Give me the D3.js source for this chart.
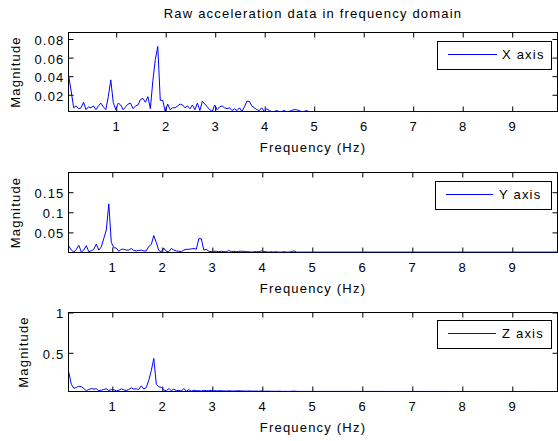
<!DOCTYPE html>
<html><head><meta charset="utf-8">
<script src="https://cdn.jsdelivr.net/npm/d3@7"></script>
<style>
html,body{margin:0;padding:0;background:#fff;}
svg{display:block;}
text{font-family:"Liberation Sans",Arial,Helvetica,sans-serif;font-size:13px;letter-spacing:1.2px;fill:#000;}
</style></head><body>
<svg id="chart" width="558" height="441"></svg>
<script>
const titleText = "Raw acceleration data in frequency domain";
const xLabel = "Frequency (Hz)";
const yLabel = "Magnitude";
const legendLabels = ["X axis", "Y axis", "Z axis"];
const xTicks = [1,2,3,4,5,6,7,8,9];
const yTicksX = [0.02,0.04,0.06,0.08];
const yTicksY = [0.05,0.1,0.15];
const yTicksZ = [0.5,1];

const freqX = [0.04,0.09,0.14,0.19,0.24,0.29,0.34,0.39,0.44,0.49,
0.54,0.59,0.64,0.69,0.74,0.79,0.84,0.89,0.94,0.99,
1.04,1.09,1.14,1.19,1.24,1.29,1.34,1.39,1.44,1.49,
1.54,1.59,1.64,1.69,1.74,1.79,1.84,1.89,1.94,1.99,
2.04,2.09,2.14,2.19,2.24,2.29,2.34,2.39,2.44,2.49,
2.54,2.59,2.64,2.69,2.74,2.79,2.84,2.89,2.94,2.99,
3.04,3.09,3.14,3.19,3.24,3.29,3.34,3.39,3.44,3.49,
3.54,3.59,3.64,3.69,3.74,3.79,3.84,3.89,3.94,3.99,
4.04,4.09,4.14,4.19,4.24,4.29,4.34,4.39,4.44,4.49,
4.54,4.59,4.64,4.69,4.74,4.79,4.84,4.89,9.915];
const magX = [0.040,0.024,0.006,0.008,0.005,0.006,0.012,0.004,0.007,0.006,
0.008,0.004,0.008,0.011,0.007,0.004,0.018,0.036,0.012,0.004,
0.011,0.009,0.004,0.007,0.010,0.011,0.005,0.008,0.009,0.015,
0.016,0.012,0.018,0.005,0.035,0.058,0.072,0.014,0.014,0.002,
0.010,0.004,0.006,0.006,0.008,0.010,0.009,0.006,0.008,0.005,
0.009,0.004,0.011,0.003,0.013,0.010,0.007,0.004,0.002,0.009,
0.004,0.007,0.008,0.006,0.005,0.006,0.003,0.005,0.003,0.006,
0.002,0.007,0.013,0.013,0.008,0.006,0.004,0.003,0.006,0.002,
0.005,0.003,0.002,0.002,0.003,0.002,0.002,0.003,0.002,0.002,
0.003,0.004,0.004,0.003,0.002,0.002,0.003,0.002,0.002];

const freqYZ = [0.13,0.18,0.23,0.28,0.33,0.38,0.43,0.48,0.53,0.58,
0.63,0.68,0.73,0.78,0.83,0.88,0.93,0.98,1.03,1.08,
1.13,1.18,1.23,1.28,1.33,1.38,1.43,1.48,1.53,1.58,
1.63,1.68,1.73,1.78,1.83,1.88,1.93,1.98,2.03,2.08,
2.13,2.18,2.23,2.28,2.33,2.38,2.43,2.48,2.53,2.58,
2.63,2.68,2.73,2.78,2.83,2.88,2.93,2.98,3.03,3.08,
3.13,3.18,3.23,3.28,3.33,3.38,3.43,3.48,3.53,3.58,
3.63,3.68,3.73,3.78,3.83,3.88,3.93,3.98,4.03,4.08,
4.13,4.18,4.23,4.28,4.33,4.38,4.43,4.48,4.53,4.58,
4.63,4.68,4.73,4.78,4.83,4.88,9.904];
const magY = [0.016,0.006,0.001,0.008,0.018,0.001,0.006,0.017,0.002,0.004,
0.008,0.021,0.006,0.014,0.035,0.056,0.121,0.025,0.012,0.011,
0.003,0.008,0.008,0.006,0.006,0.010,0.005,0.004,0.005,0.006,
0.004,0.004,0.015,0.020,0.042,0.025,0.005,0.002,0.011,0.003,
0.002,0.010,0.006,0.004,0.003,0.002,0.006,0.008,0.008,0.009,
0.010,0.008,0.034,0.034,0.006,0.008,0.003,0.002,0.003,0.003,
0.002,0.003,0.002,0.002,0.005,0.002,0.003,0.002,0.003,0.003,
0.003,0.002,0.002,0.001,0.002,0.002,0.002,0.004,0.002,0.002,
0.001,0.002,0.001,0.002,0.001,0.001,0.002,0.001,0.001,0.002,
0.004,0.001,0.001,0.001,0.001,0.001,0.001];
const magZ = [0.26,0.11,0.06,0.07,0.085,0.08,0.057,0.03,0.045,0.057,
0.05,0.053,0.03,0.036,0.045,0.053,0.032,0.045,0.041,0.028,
0.035,0.053,0.04,0.032,0.045,0.065,0.05,0.053,0.045,0.09,
0.05,0.07,0.16,0.28,0.43,0.11,0.08,0.07,0.04,0.028,
0.057,0.03,0.049,0.03,0.035,0.025,0.057,0.025,0.041,0.024,
0.036,0.03,0.03,0.025,0.035,0.03,0.03,0.032,0.03,0.028,
0.03,0.029,0.028,0.026,0.03,0.027,0.025,0.028,0.03,0.027,
0.026,0.025,0.027,0.025,0.024,0.026,0.023,0.028,0.024,0.023,
0.025,0.022,0.023,0.022,0.024,0.022,0.021,0.022,0.021,0.023,
0.025,0.022,0.021,0.021,0.021,0.021,0.02];

const panels = [
  {freq:freqX, mag:magX, xDom:[0.036,9.915], yDom:[0.002,0.087], yTicks:yTicksX, top:32.5, bottom:111.5, label:legendLabels[0], ylabX:20,
   leg:{x0:437.5,x1:551.5,y0:41.5,y1:69.5,l0:448,l1:497,ly:54.5,tx:502}},
  {freq:freqYZ, mag:magY, xDom:[0.124,9.904], yDom:[0,0.199], yTicks:yTicksY, top:172.5, bottom:252.5, label:legendLabels[1], ylabX:20,
   leg:{x0:435.5,x1:551.5,y0:181.5,y1:209.5,l0:446,l1:493,ly:194.5,tx:499}},
  {freq:freqYZ, mag:magZ, xDom:[0.124,9.904], yDom:[0.02,1], yTicks:yTicksZ, top:312.5, bottom:391.5, label:legendLabels[2], ylabX:28,
   leg:{x0:437.5,x1:551.5,y0:320.5,y1:348.5,l0:448,l1:496,ly:333.5,tx:502}}
];
const left = 68.5, right = 557.5;
const svg = d3.select("#chart");

svg.append("text").attr("x",(left+right)/2).attr("y",18).attr("text-anchor","middle").text(titleText);

panels.forEach((p,i)=>{
  const x = d3.scaleLinear().domain(p.xDom).range([left,right]);
  const y = d3.scaleLinear().domain(p.yDom).range([p.bottom,p.top]);
  const g = svg.append("g");
  const cid = "clip"+i;
  svg.append("clipPath").attr("id",cid).append("rect")
    .attr("x",left).attr("y",p.top-1).attr("width",right-left).attr("height",p.bottom-p.top+1);

  // frame
  g.append("rect").attr("x",left).attr("y",p.top).attr("width",right-left).attr("height",p.bottom-p.top)
    .attr("fill","none").attr("stroke","#000").attr("stroke-width",1);

  const fmt = d3.format("~g");
  const axB = g.append("g").attr("transform",`translate(0,${p.bottom})`)
    .call(d3.axisBottom(x).tickValues(xTicks).tickSize(-5).tickPadding(10).tickFormat(fmt));
  const axT = g.append("g").attr("transform",`translate(0,${p.top})`)
    .call(d3.axisTop(x).tickValues(xTicks).tickSize(-5).tickFormat(""));
  const axL = g.append("g").attr("transform",`translate(${left},0)`)
    .call(d3.axisLeft(y).tickValues(p.yTicks).tickSize(-5).tickPadding(4).tickFormat(fmt));
  const axR = g.append("g").attr("transform",`translate(${right},0)`)
    .call(d3.axisRight(y).tickValues(p.yTicks).tickSize(-5).tickFormat(""));
  [axB,axT,axL,axR].forEach(a=>{
    a.select(".domain").remove();
    a.selectAll("line").attr("stroke","#000");
    a.selectAll("text").attr("fill","#000").style("font-size","13px")
      .style("font-family",'"Liberation Sans",Arial,Helvetica,sans-serif');
  });
  axL.selectAll("text").attr("dy","0.42em");

  // data line
  const pts = p.freq.map((f,k)=>[f,p.mag[k]]);
  g.append("path").datum(pts).attr("clip-path",`url(#${cid})`)
    .attr("fill","none").attr("stroke","#0000ff").attr("stroke-width",1)
    .attr("d", d3.line().x(d=>x(d[0])).y(d=>y(d[1])));

  // labels
  svg.append("text").attr("x",(left+right)/2).attr("y",p.bottom+40).attr("text-anchor","middle").text(xLabel);
  svg.append("text").attr("transform",`translate(${p.ylabX},${(p.top+p.bottom)/2}) rotate(-90)`)
    .attr("text-anchor","middle").text(yLabel);

  // legend
  const L = p.leg;
  g.append("rect").attr("x",L.x0).attr("y",L.y0).attr("width",L.x1-L.x0).attr("height",L.y1-L.y0)
    .attr("fill","#fff").attr("stroke","#000").attr("stroke-width",1);
  g.append("line").attr("x1",L.l0).attr("x2",L.l1).attr("y1",L.ly).attr("y2",L.ly)
    .attr("stroke","#0000ff").attr("stroke-width",1);
  g.append("text").attr("x",L.tx).attr("y",L.ly).attr("dy","0.36em").text(p.label);
});
</script>
</body></html>
